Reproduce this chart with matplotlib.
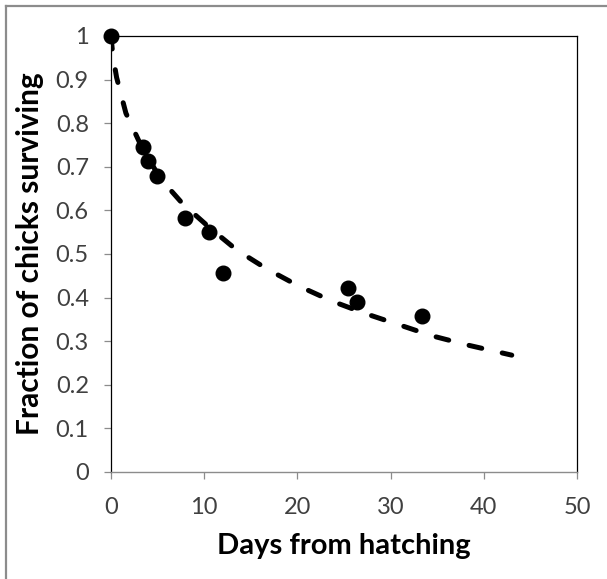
import matplotlib
matplotlib.use("Agg")
import matplotlib.pyplot as plt
from matplotlib.lines import Line2D

# Observed data points
days = [0, 3.4, 4.0, 4.9, 7.9, 10.5, 12.0, 25.4, 26.4, 33.4]
surviving = [1.0, 0.745, 0.713, 0.679, 0.583, 0.551, 0.456, 0.422, 0.390, 0.358]

# Fitted curve
fit_days = [0, 0.2, 0.6, 1.6, 3.3, 5.3, 7.7, 10.6, 13.5, 16.7, 20.1, 23.7, 27.2, 31.0, 34.5, 38.3, 43.0]
fit_surv = [1.0, 0.955, 0.905, 0.823, 0.745, 0.673, 0.615, 0.560, 0.509, 0.466, 0.427, 0.392, 0.364, 0.337, 0.312, 0.291, 0.268]

x_ticks = [0, 10, 20, 30, 40, 50]
y_ticks = [0, 0.1, 0.2, 0.3, 0.4, 0.5, 0.6, 0.7, 0.8, 0.9, 1]
y_tick_labels = ["0", "0.1", "0.2", "0.3", "0.4", "0.5", "0.6", "0.7", "0.8", "0.9", "1"]

plt.rcParams['font.family'] = ['Lato', 'DejaVu Sans']

W, H = 607, 579
fig = plt.figure(figsize=(W / 100, H / 100), dpi=100)
ax = fig.add_axes([111 / W, 1 - 472 / H, (577 - 111) / W, (472 - 36) / H])

ax.plot(fit_days, fit_surv, color='black', lw=3.6, dashes=(2.6, 4.2),
        dash_capstyle='round', solid_capstyle='round')
ax.plot(days, surviving, 'o', color='black', markersize=10.5, clip_on=False, zorder=5)

ax.set_xlim(0, 50)
ax.set_ylim(0, 1)
ax.set_xticks(x_ticks)
ax.set_yticks(y_ticks)
ax.set_yticklabels(y_tick_labels)

for s in ['top', 'right', 'left']:
    ax.spines[s].set_color('black')
    ax.spines[s].set_linewidth(0.9)
ax.spines['bottom'].set_color('#8c8c8c')
ax.spines['bottom'].set_linewidth(1.0)

ax.tick_params(axis='both', direction='out', length=5, width=0.9, color='#8c8c8c',
               labelsize=17, labelcolor='#404040')
ax.tick_params(axis='x', pad=13)
ax.tick_params(axis='y', pad=11)

ax.set_xlabel('Days from hatching', fontsize=21, fontweight='bold', color='black', labelpad=11)
ax.set_ylabel('Fraction of chicks surviving', fontsize=21.5, fontweight='bold', color='black', labelpad=8)

# Outer chart border (only left and top edges visible in the crop)
fig.add_artist(Line2D([6 / W, 6 / W], [0, 1 - 6 / H], transform=fig.transFigure,
                      color='#8c8c8c', lw=1.6))
fig.add_artist(Line2D([6 / W, 1], [1 - 6 / H, 1 - 6 / H], transform=fig.transFigure,
                      color='#8c8c8c', lw=1.6))

fig.savefig('out.png', dpi=100)
